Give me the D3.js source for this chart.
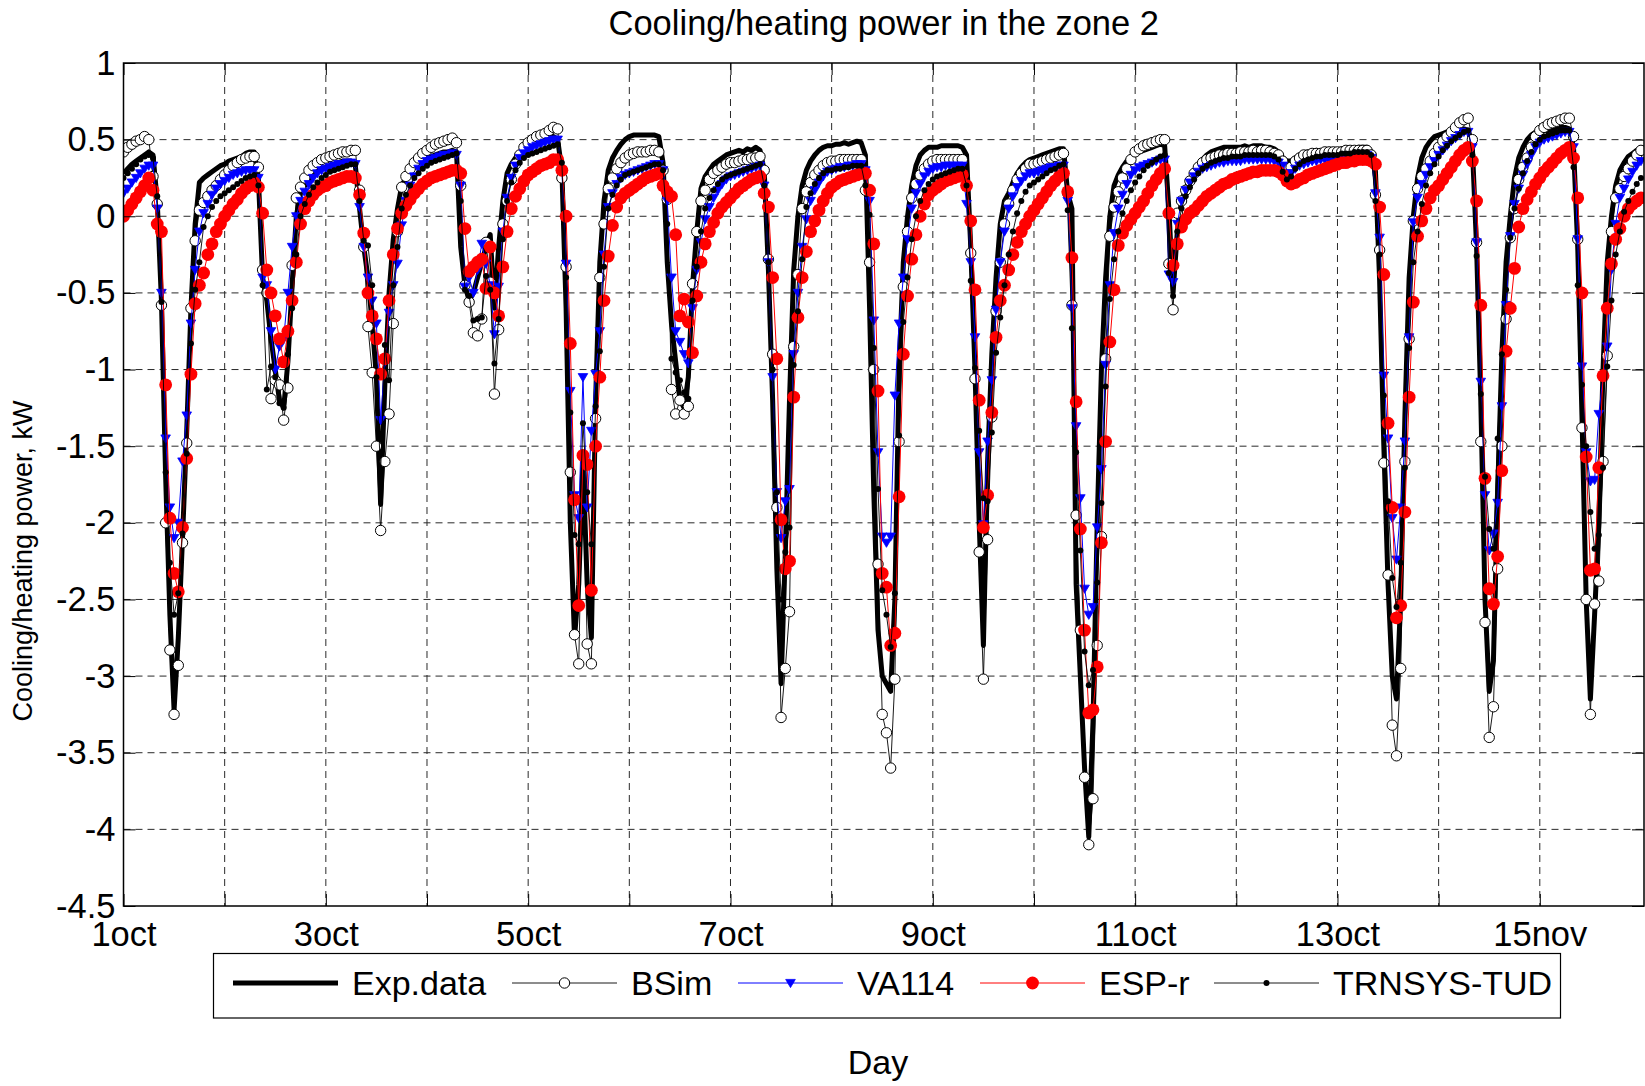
<!DOCTYPE html>
<html>
<head>
<meta charset="utf-8">
<script src="https://cdn.jsdelivr.net/npm/d3@7"></script>
<style>
  body { margin: 0; background: #fff; }
</style>
</head>
<body>
<div id="chart"></div>
<script>
// Hourly values (kW), one block of 24 per day from 1oct 00:00, plus the last hour
const expData = [
  0.28, 0.31, 0.34, 0.36, 0.38, 0.40, 0.42, 0.40,  0.10, -0.55, -1.70, -2.60, -3.22, -2.75, -2.10, -1.40,  -0.60, -0.05, 0.22, 0.25, 0.27, 0.29, 0.31, 0.33,
  0.34, 0.36, 0.37, 0.38, 0.39, 0.41, 0.42, 0.42,  0.25, -0.40, -0.55, -0.80, -1.00, -1.20, -1.25, -0.95,  -0.45, 0.00, 0.15, 0.20, 0.24, 0.27, 0.29, 0.31,
  0.32, 0.33, 0.34, 0.35, 0.36, 0.36, 0.36, 0.33,  0.05, -0.20, -0.40, -0.70, -1.05, -1.88, -1.10, -0.50,  -0.15, 0.05, 0.20, 0.25, 0.29, 0.32, 0.35, 0.37,
  0.38, 0.39, 0.40, 0.41, 0.42, 0.42, 0.43, 0.42,  -0.20, -0.45, -0.55, -0.50, -0.40, -0.30, -0.20, -0.12,  -0.60, -0.20, 0.10, 0.28, 0.34, 0.38, 0.41, 0.43,
  0.45, 0.47, 0.48, 0.50, 0.51, 0.52, 0.52, 0.50,  0.30, -0.60, -2.00, -2.75, -2.40, -1.60, -2.40, -2.75,  -1.20, -0.30, 0.10, 0.30, 0.38, 0.43, 0.47, 0.50,
  0.52, 0.53, 0.53, 0.53, 0.53, 0.53, 0.53, 0.52,  0.35, -0.30, -0.70, -0.95, -1.20, -1.25, -1.05, -0.45,  -0.10, 0.18, 0.26, 0.30, 0.34, 0.36, 0.38, 0.40,
  0.41, 0.42, 0.43, 0.42, 0.44, 0.43, 0.45, 0.43,  0.30, -0.35, -1.20, -2.30, -3.05, -2.20, -1.20, -0.35,  0.00, 0.20, 0.30, 0.36, 0.40, 0.43, 0.45, 0.46,
  0.46, 0.47, 0.47, 0.48, 0.47, 0.48, 0.49, 0.48,  0.40, -0.60, -1.80, -2.70, -3.00, -3.05, -3.10, -2.50,  -1.00, -0.30, 0.00, 0.20, 0.33, 0.40, 0.43, 0.45,
  0.45, 0.45, 0.46, 0.46, 0.46, 0.46, 0.46, 0.45,  0.40, -0.20, -1.00, -2.00, -2.80, -1.60, -0.90, -0.40,  -0.05, 0.10, 0.15, 0.22, 0.28, 0.32, 0.35, 0.37,
  0.38, 0.39, 0.40, 0.41, 0.42, 0.43, 0.44, 0.44,  0.15, 0.05, -2.40, -3.00, -3.60, -4.05, -3.30, -2.00,  -1.00, -0.40, 0.00, 0.20, 0.27, 0.32, 0.36, 0.39,
  0.41, 0.42, 0.43, 0.44, 0.45, 0.46, 0.47, 0.46,  0.05, -0.50, -0.10, 0.10, 0.18, 0.24, 0.29, 0.33,  0.37, 0.40, 0.42, 0.43, 0.44, 0.45, 0.45, 0.45,
  0.45, 0.45, 0.46, 0.45, 0.46, 0.46, 0.46, 0.45,  0.45, 0.44, 0.42, 0.38, 0.36, 0.36, 0.38, 0.40,  0.41, 0.42, 0.42, 0.43, 0.42, 0.43, 0.43, 0.43,
  0.43, 0.44, 0.44, 0.44, 0.44, 0.45, 0.45, 0.45,  0.42, 0.30, -0.42, -1.50, -2.40, -3.00, -3.15, -2.50,  -1.30, -0.40, 0.00, 0.25, 0.38, 0.45, 0.49, 0.52,
  0.53, 0.54, 0.55, 0.55, 0.56, 0.57, 0.57, 0.56,  0.45, -0.20, -1.20, -2.50, -3.10, -2.90, -1.80, -0.90,  -0.30, 0.00, 0.25, 0.38, 0.45, 0.50, 0.53, 0.55,
  0.55, 0.56, 0.56, 0.57, 0.57, 0.58, 0.58, 0.57,  0.45, -0.20, -1.30, -2.50, -3.15, -2.60, -2.00, -1.00,  -0.30, 0.00, 0.20, 0.30, 0.35, 0.39, 0.41, 0.43,
  0.44
];

const bsimData = [
  0.42, 0.45, 0.47, 0.49, 0.50, 0.52, 0.50, 0.26,  0.08, -0.58, -2.00, -2.83, -3.25, -2.93, -2.13, -1.48,  -0.60, -0.16, 0.04, 0.09, 0.13, 0.17, 0.20, 0.24,
  0.27, 0.30, 0.33, 0.35, 0.37, 0.38, 0.39, 0.39,  0.32, -0.35, -0.50, -1.19, -1.07, -1.10, -1.33, -1.12,  -0.32, 0.12, 0.19, 0.25, 0.30, 0.33, 0.35, 0.37,
  0.38, 0.39, 0.40, 0.41, 0.42, 0.42, 0.43, 0.43,  0.17, -0.20, -0.72, -1.02, -1.50, -2.05, -1.60, -1.29,  -0.70, -0.10, 0.19, 0.26, 0.31, 0.35, 0.38, 0.41,
  0.43, 0.45, 0.47, 0.48, 0.49, 0.50, 0.51, 0.48,  0.20, -0.45, -0.56, -0.76, -0.78, -0.67, -0.17, -0.43,  -1.16, -0.74, -0.05, 0.10, 0.24, 0.34, 0.40, 0.45,
  0.48, 0.50, 0.52, 0.53, 0.54, 0.56, 0.58, 0.57,  0.25, -0.33, -1.67, -2.73, -2.92, -1.56, -2.79, -2.92,  -1.32, -0.40, -0.05, 0.18, 0.25, 0.31, 0.35, 0.38,
  0.40, 0.41, 0.42, 0.42, 0.42, 0.43, 0.43, 0.42,  0.30, 0.11, -1.13, -1.29, -1.20, -1.29, -1.24, -0.44,  -0.10, 0.10, 0.17, 0.24, 0.28, 0.30, 0.32, 0.34,
  0.35, 0.35, 0.36, 0.37, 0.37, 0.38, 0.38, 0.39,  0.30, -0.28, -0.90, -1.90, -3.27, -2.95, -2.58, -0.85,  -0.38, 0.05, 0.16, 0.22, 0.27, 0.30, 0.33, 0.35,
  0.36, 0.36, 0.37, 0.37, 0.37, 0.37, 0.37, 0.37,  0.17, -0.30, -1.00, -2.27, -3.25, -3.37, -3.60, -3.02,  -1.47, -0.46, -0.10, 0.12, 0.21, 0.27, 0.31, 0.34,
  0.36, 0.37, 0.37, 0.37, 0.37, 0.37, 0.37, 0.37,  0.20, -0.24, -1.06, -2.19, -3.02, -2.11, -1.31, -0.62,  -0.30, -0.05, 0.08, 0.17, 0.24, 0.28, 0.31, 0.34,
  0.34, 0.35, 0.36, 0.37, 0.38, 0.39, 0.40, 0.41,  0.15, -0.58, -1.95, -2.70, -3.66, -4.10, -3.80, -2.80,  -2.09, -0.93, -0.13, 0.06, 0.16, 0.25, 0.31, 0.37,
  0.42, 0.44, 0.46, 0.47, 0.48, 0.49, 0.50, 0.50,  -0.31, -0.61, 0.02, 0.10, 0.17, 0.23, 0.28, 0.32,  0.35, 0.37, 0.38, 0.39, 0.40, 0.40, 0.41, 0.41,
  0.41, 0.42, 0.42, 0.42, 0.43, 0.42, 0.43, 0.43,  0.42, 0.41, 0.40, 0.36, 0.31, 0.32, 0.36, 0.38,  0.40, 0.40, 0.41, 0.41, 0.41, 0.42, 0.42, 0.42,
  0.42, 0.42, 0.43, 0.43, 0.43, 0.43, 0.43, 0.43,  0.40, 0.14, -0.22, -1.61, -2.34, -3.32, -3.52, -2.95,  -1.60, -0.80, -0.03, 0.18, 0.26, 0.31, 0.36, 0.41,
  0.45, 0.49, 0.52, 0.55, 0.58, 0.61, 0.63, 0.64,  0.50, -0.17, -1.47, -2.65, -3.40, -3.20, -2.30, -1.50,  -0.67, -0.14, 0.05, 0.24, 0.32, 0.38, 0.45, 0.52,
  0.56, 0.58, 0.60, 0.61, 0.62, 0.63, 0.64, 0.64,  0.52, -0.15, -1.38, -2.50, -3.25, -2.53, -2.38, -1.60,  -0.91, -0.10, 0.12, 0.18, 0.26, 0.31, 0.36, 0.40,
  0.43
];

const va114Data = [
  0.15, 0.18, 0.22, 0.25, 0.28, 0.31, 0.33, 0.33,  0.05, -0.50, -1.45, -1.90, -2.10, -2.00, -1.60, -1.30,  -0.70, -0.35, -0.10, 0.02, 0.08, 0.14, 0.18, 0.21,
  0.23, 0.25, 0.27, 0.28, 0.29, 0.30, 0.30, 0.30,  0.25, -0.40, -0.45, -0.75, -1.00, -0.85, -0.80, -0.50,  -0.20, 0.00, 0.10, 0.16, 0.21, 0.25, 0.28, 0.30,
  0.31, 0.32, 0.33, 0.34, 0.34, 0.35, 0.35, 0.34,  0.06, -0.20, -0.40, -0.55, -0.70, -1.33, -0.95, -0.63,  -0.45, -0.31, -0.06, 0.10, 0.20, 0.26, 0.31, 0.34,
  0.36, 0.37, 0.38, 0.39, 0.40, 0.40, 0.41, 0.40,  0.20, -0.46, -0.40, -0.50, -0.35, -0.18, -0.31, -0.45,  -0.77, -0.46, -0.10, 0.12, 0.25, 0.33, 0.38, 0.41,
  0.43, 0.45, 0.46, 0.47, 0.48, 0.49, 0.50, 0.50,  0.30, -0.31, -1.14, -1.82, -1.97, -1.05, -1.90, -1.40,  -1.03, -0.75, -0.25, 0.06, 0.15, 0.21, 0.25, 0.27,
  0.28, 0.29, 0.30, 0.31, 0.32, 0.33, 0.34, 0.34,  0.30, 0.10, -0.40, -0.75, -0.82, -0.90, -0.96, -0.60,  -0.35, -0.17, -0.02, 0.06, 0.12, 0.17, 0.21, 0.24,
  0.26, 0.27, 0.28, 0.29, 0.30, 0.31, 0.32, 0.33,  0.20, -0.30, -1.05, -1.80, -2.10, -1.86, -1.78, -0.90,  -0.50, -0.20, -0.02, 0.10, 0.17, 0.22, 0.26, 0.29,
  0.30, 0.31, 0.32, 0.32, 0.33, 0.33, 0.34, 0.34,  0.30, 0.10, -0.68, -1.54, -2.09, -2.13, -2.09, -1.17,  -0.70, -0.40, -0.15, 0.05, 0.15, 0.21, 0.26, 0.29,
  0.31, 0.32, 0.32, 0.33, 0.33, 0.33, 0.33, 0.33,  0.08, -0.30, -0.79, -1.54, -2.01, -1.47, -1.07, -0.61,  -0.30, -0.10, 0.05, 0.13, 0.19, 0.23, 0.26, 0.28,
  0.28, 0.29, 0.30, 0.31, 0.32, 0.32, 0.33, 0.33,  0.10, -0.60, -1.37, -1.84, -2.43, -2.60, -2.55, -2.03,  -1.65, -0.97, -0.45, -0.11, 0.05, 0.14, 0.21, 0.27,
  0.30, 0.32, 0.33, 0.34, 0.35, 0.36, 0.37, 0.37,  -0.38, -0.43, -0.05, 0.10, 0.17, 0.22, 0.26, 0.29,  0.31, 0.32, 0.33, 0.34, 0.35, 0.35, 0.36, 0.36,
  0.36, 0.36, 0.37, 0.37, 0.37, 0.37, 0.37, 0.37,  0.37, 0.36, 0.35, 0.33, 0.28, 0.28, 0.31, 0.33,  0.34, 0.35, 0.36, 0.36, 0.37, 0.37, 0.37, 0.38,
  0.38, 0.38, 0.39, 0.39, 0.39, 0.40, 0.40, 0.40,  0.38, 0.15, -0.14, -1.04, -1.45, -1.97, -2.24, -1.90,  -1.47, -0.79, -0.04, 0.12, 0.21, 0.27, 0.32, 0.36,
  0.40, 0.43, 0.46, 0.49, 0.51, 0.53, 0.55, 0.55,  0.45, -0.17, -1.08, -1.82, -2.18, -2.07, -1.87, -1.24,  -0.58, -0.13, 0.08, 0.18, 0.27, 0.34, 0.40, 0.45,
  0.48, 0.50, 0.51, 0.52, 0.53, 0.54, 0.55, 0.55,  0.45, -0.15, -0.98, -1.54, -1.73, -1.72, -1.29, -1.05,  -0.85, -0.35, -0.05, 0.12, 0.18, 0.24, 0.29, 0.33,
  0.36
];

const esprData = [
  0.00, 0.04, 0.08, 0.12, 0.16, 0.20, 0.25, 0.17,  -0.05, -0.10, -1.10, -1.97, -2.33, -2.45, -2.03, -1.58,  -1.03, -0.57, -0.45, -0.37, -0.25, -0.18, -0.10, -0.05,
  0.00, 0.04, 0.08, 0.11, 0.15, 0.18, 0.20, 0.22,  0.19, 0.02, -0.35, -0.50, -0.65, -0.80, -0.95, -0.75,  -0.55, -0.30, -0.05, 0.05, 0.10, 0.14, 0.17, 0.19,
  0.20, 0.22, 0.23, 0.24, 0.25, 0.26, 0.26, 0.25,  0.14, -0.11, -0.50, -0.65, -0.80, -1.03, -0.93, -0.55,  -0.25, -0.08, 0.02, 0.07, 0.11, 0.15, 0.18, 0.21,
  0.23, 0.25, 0.26, 0.27, 0.28, 0.29, 0.30, 0.30,  0.28, -0.08, -0.36, -0.33, -0.30, -0.28, -0.47, -0.20,  -0.50, -0.65, -0.33, -0.10, 0.05, 0.13, 0.18, 0.23,
  0.27, 0.29, 0.31, 0.33, 0.34, 0.35, 0.37, 0.37,  0.30, 0.00, -0.83, -1.85, -2.54, -1.56, -1.62, -2.44,  -1.50, -1.05, -0.55, -0.26, -0.06, 0.06, 0.12, 0.15,
  0.17, 0.19, 0.21, 0.23, 0.25, 0.26, 0.27, 0.28,  0.20, 0.16, 0.13, -0.12, -0.65, -0.54, -0.69, -0.89,  -0.52, -0.30, -0.18, -0.10, -0.04, 0.02, 0.06, 0.09,
  0.12, 0.15, 0.18, 0.20, 0.22, 0.24, 0.25, 0.26,  0.15, 0.06, -0.40, -0.93, -1.98, -2.30, -2.25, -1.18,  -0.66, -0.40, -0.23, -0.10, -0.03, 0.04, 0.10, 0.15,
  0.19, 0.21, 0.23, 0.24, 0.25, 0.26, 0.27, 0.28,  0.28, 0.17, -0.18, -1.14, -2.33, -2.42, -2.80, -2.72,  -1.83, -0.90, -0.52, -0.28, -0.12, 0.00, 0.08, 0.14,
  0.17, 0.19, 0.21, 0.23, 0.24, 0.25, 0.26, 0.27,  0.20, -0.03, -0.48, -1.20, -2.03, -1.82, -1.28, -0.79,  -0.55, -0.45, -0.35, -0.25, -0.17, -0.10, -0.05, 0.00,
  0.04, 0.08, 0.12, 0.16, 0.20, 0.23, 0.26, 0.28,  0.16, -0.27, -1.21, -2.04, -2.70, -3.24, -3.22, -2.94,  -2.13, -1.47, -0.82, -0.48, -0.19, -0.11, -0.06, -0.02,
  0.02, 0.06, 0.10, 0.15, 0.20, 0.24, 0.28, 0.31,  0.02, -0.32, -0.18, -0.07, -0.02, 0.02, 0.04, 0.07,  0.10, 0.13, 0.15, 0.17, 0.19, 0.21, 0.22, 0.24,
  0.25, 0.26, 0.27, 0.28, 0.29, 0.29, 0.30, 0.30,  0.30, 0.30, 0.29, 0.27, 0.23, 0.21, 0.22, 0.24,  0.25, 0.27, 0.28, 0.29, 0.30, 0.31, 0.32, 0.33,
  0.34, 0.35, 0.35, 0.36, 0.36, 0.37, 0.37, 0.37,  0.36, 0.34, 0.06, -0.38, -1.35, -1.90, -2.62, -2.54,  -1.93, -1.18, -0.56, -0.13, -0.03, 0.05, 0.12, 0.17,
  0.20, 0.24, 0.28, 0.32, 0.36, 0.40, 0.43, 0.45,  0.36, 0.10, -0.58, -1.71, -2.43, -2.53, -2.22, -1.66,  -0.88, -0.60, -0.34, -0.07, 0.05, 0.11, 0.16, 0.21,
  0.25, 0.29, 0.32, 0.35, 0.38, 0.41, 0.43, 0.45,  0.38, 0.12, -0.50, -1.57, -2.31, -2.30, -1.64, -1.04,  -0.60, -0.31, -0.15, -0.08, 0.00, 0.05, 0.08, 0.10,
  0.12
];

const trnsysData = [
  0.25, 0.28, 0.31, 0.34, 0.37, 0.39, 0.40, 0.38,  0.13, -0.56, -1.67, -2.26, -2.60, -2.46, -2.07, -1.55,  -0.83, -0.48, -0.30, -0.07, 0.00, 0.06, 0.10, 0.13,
  0.15, 0.17, 0.19, 0.21, 0.23, 0.25, 0.26, 0.27,  0.20, -0.45, -1.13, -0.98, -1.05, -1.22, -1.25, -0.90,  -0.60, -0.25, 0.00, 0.08, 0.14, 0.19, 0.22, 0.25,
  0.27, 0.29, 0.30, 0.31, 0.32, 0.33, 0.34, 0.34,  0.10, -0.16, -0.19, -0.45, -1.05, -1.67, -0.84, -1.07,  -0.45, -0.20, 0.05, 0.14, 0.20, 0.25, 0.28, 0.31,
  0.33, 0.35, 0.36, 0.37, 0.38, 0.39, 0.40, 0.41,  0.10, -0.48, -0.52, -0.68, -0.67, -0.66, -0.39, -0.48,  -0.96, -0.67, -0.15, 0.10, 0.22, 0.30, 0.35, 0.38,
  0.40, 0.41, 0.42, 0.43, 0.44, 0.45, 0.46, 0.47,  0.35, -0.40, -1.28, -2.08, -2.14, -1.35, -1.80, -2.14,  -1.24, -0.88, -0.33, 0.05, 0.14, 0.20, 0.24, 0.27,
  0.28, 0.29, 0.30, 0.31, 0.32, 0.33, 0.34, 0.34,  0.30, -0.05, -0.93, -1.02, -1.07, -1.15, -1.19, -0.55,  -0.33, -0.10, 0.05, 0.12, 0.17, 0.21, 0.24, 0.26,
  0.27, 0.28, 0.29, 0.30, 0.31, 0.32, 0.33, 0.34,  0.20, -0.30, -1.00, -1.80, -2.50, -2.19, -2.03, -0.97,  -0.62, -0.28, 0.06, 0.15, 0.21, 0.25, 0.28, 0.30,
  0.30, 0.31, 0.31, 0.32, 0.32, 0.33, 0.33, 0.33,  0.20, 0.01, -0.86, -1.78, -2.44, -2.60, -2.81, -2.46,  -1.43, -0.69, -0.40, -0.15, 0.00, 0.10, 0.17, 0.21,
  0.24, 0.26, 0.27, 0.28, 0.29, 0.30, 0.31, 0.31,  0.20, -0.42, -0.99, -1.40, -1.84, -1.86, -1.41, -0.89,  -0.66, -0.45, -0.25, -0.10, 0.02, 0.10, 0.16, 0.20,
  0.22, 0.24, 0.26, 0.28, 0.30, 0.31, 0.33, 0.34,  0.04, -0.73, -1.54, -2.18, -2.84, -3.06, -2.96, -2.39,  -1.87, -1.11, -0.54, -0.28, -0.10, 0.02, 0.10, 0.17,
  0.22, 0.26, 0.30, 0.33, 0.35, 0.37, 0.39, 0.40,  -0.37, -0.52, -0.10, 0.05, 0.13, 0.19, 0.24, 0.28,  0.31, 0.33, 0.35, 0.36, 0.37, 0.38, 0.38, 0.39,
  0.39, 0.39, 0.40, 0.40, 0.40, 0.40, 0.40, 0.40,  0.40, 0.39, 0.37, 0.29, 0.24, 0.26, 0.31, 0.34,  0.36, 0.37, 0.38, 0.39, 0.39, 0.40, 0.40, 0.40,
  0.40, 0.41, 0.41, 0.41, 0.42, 0.42, 0.42, 0.42,  0.40, 0.10, -0.25, -1.17, -1.86, -2.36, -2.55, -2.26,  -1.64, -0.86, -0.30, -0.10, 0.08, 0.20, 0.28, 0.34,
  0.39, 0.43, 0.46, 0.49, 0.51, 0.53, 0.55, 0.56,  0.40, -0.26, -1.16, -1.70, -2.04, -2.17, -1.45, -0.90,  -0.48, -0.14, 0.05, 0.18, 0.28, 0.36, 0.42, 0.47,
  0.50, 0.52, 0.53, 0.54, 0.55, 0.56, 0.56, 0.56,  0.32, -0.45, -1.10, -1.50, -1.93, -2.17, -2.08, -1.64,  -0.98, -0.55, -0.25, -0.10, 0.03, 0.10, 0.16, 0.21,
  0.25
];

const seriesNames = ['Exp.data', 'BSim', 'VA114', 'ESP-r', 'TRNSYS-TUD'];
const xTickLabels = ['1oct', '', '3oct', '', '5oct', '', '7oct', '', '9oct', '', '11oct', '', '13oct', '', '15nov'];
const yTickValues = [1, 0.5, 0, -0.5, -1, -1.5, -2, -2.5, -3, -3.5, -4, -4.5];

function draw() {
    // Dimension
    const dimensions = {
        width: 1645,
        height: 1086,
        left: 123.5,
        right: 1644,
        top: 63,
        bottom: 906,
    };
    const font = '"Liberation Sans", Arial, Helvetica, sans-serif';

    const svg = d3.select('#chart')
        .append('svg')
        .attr('width', dimensions.width)
        .attr('height', dimensions.height)
        .style('font-family', font);

    // Scales
    const xScale = d3.scaleLinear()
        .domain([0, 15.03])
        .range([dimensions.left, dimensions.right]);
    const yScale = d3.scaleLinear()
        .domain([-4.5, 1])
        .range([dimensions.bottom, dimensions.top]);

    const dayTicks = xTickLabels.map((d, i) => i);

    // Grid
    const grid = svg.append('g')
        .attr('stroke', '#2a2a2a')
        .attr('stroke-width', 1)
        .attr('stroke-dasharray', '7,5');
    grid.selectAll('line.gx')
        .data(dayTicks.slice(1))
        .join('line')
        .classed('gx', true)
        .attr('x1', d => xScale(d)).attr('x2', d => xScale(d))
        .attr('y1', dimensions.top).attr('y2', dimensions.bottom);
    grid.selectAll('line.gy')
        .data(yTickValues.slice(1, -1))
        .join('line')
        .classed('gy', true)
        .attr('x1', dimensions.left).attr('x2', dimensions.right)
        .attr('y1', d => yScale(d)).attr('y2', d => yScale(d));

    // Series
    svg.append('clipPath').attr('id', 'plotClip')
        .append('rect')
        .attr('x', dimensions.left).attr('y', dimensions.top)
        .attr('width', dimensions.right - dimensions.left)
        .attr('height', dimensions.bottom - dimensions.top);

    const plot = svg.append('g').attr('clip-path', 'url(#plotClip)');

    const lineGen = d3.line()
        .x((d, i) => xScale(i / 24))
        .y(d => yScale(d));

    const triangle = 'M-4.8,-3.6L4.8,-3.6L0,4.6Z';

    const series = [
        { name: seriesNames[0], values: expData, color: '#000', width: 5, marker: null },
        { name: seriesNames[1], values: bsimData, color: '#000', width: 0.9, marker: 'open' },
        { name: seriesNames[2], values: va114Data, color: '#0000ff', width: 1, marker: 'tri' },
        { name: seriesNames[3], values: esprData, color: '#ff0000', width: 1, marker: 'big' },
        { name: seriesNames[4], values: trnsysData, color: '#000', width: 0.9, marker: 'dot' },
    ];

    function drawMarkers(g, pts, s) {
        if (s.marker === 'open') {
            g.selectAll('circle').data(pts).join('circle')
                .attr('cx', d => d[0]).attr('cy', d => d[1]).attr('r', 5.2)
                .attr('fill', '#fff').attr('stroke', '#000').attr('stroke-width', 1);
        } else if (s.marker === 'tri') {
            g.selectAll('path').data(pts).join('path')
                .attr('d', triangle)
                .attr('transform', d => `translate(${d[0]},${d[1]})`)
                .attr('fill', s.color).attr('stroke', s.color).attr('stroke-width', 0.8);
        } else if (s.marker === 'big') {
            g.selectAll('circle').data(pts).join('circle')
                .attr('cx', d => d[0]).attr('cy', d => d[1]).attr('r', 6.4)
                .attr('fill', s.color);
        } else if (s.marker === 'dot') {
            g.selectAll('circle').data(pts).join('circle')
                .attr('cx', d => d[0]).attr('cy', d => d[1]).attr('r', 3)
                .attr('fill', '#000');
        }
    }

    series.forEach(s => {
        const g = plot.append('g');
        g.append('path')
            .datum(s.values)
            .attr('fill', 'none')
            .attr('stroke', s.color)
            .attr('stroke-width', s.width)
            .attr('stroke-linejoin', 'round')
            .attr('d', lineGen);
        if (s.marker) {
            const pts = s.values.map((v, i) => [xScale(i / 24), yScale(v)]);
            drawMarkers(g.append('g'), pts, s);
        }
    });

    // Axes (ticks inward, box style)
    const axisStyle = g => {
        g.attr('font-family', font).attr('font-size', 34.5);
        g.select('.domain').remove();
        g.selectAll('.tick line').attr('stroke', '#000').attr('stroke-width', 1);
        g.selectAll('.tick text').attr('fill', '#000');
    };

    const yAxisGroup = svg.append('g')
        .attr('transform', `translate(${dimensions.left},0)`);
    yAxisGroup.call(d3.axisLeft(yScale)
        .tickValues(yTickValues)
        .tickSize(-12)
        .tickPadding(8)
        .tickFormat(d => String(d)))
        .call(axisStyle);

    svg.append('g')
        .attr('transform', `translate(${dimensions.right},0)`)
        .call(d3.axisRight(yScale).tickValues(yTickValues).tickSize(-12).tickFormat(''))
        .call(axisStyle);

    const xAxisGroup = svg.append('g')
        .attr('transform', `translate(0,${dimensions.bottom})`);
    xAxisGroup.call(d3.axisBottom(xScale)
        .tickValues(dayTicks)
        .tickSize(-12)
        .tickPadding(16)
        .tickFormat((d, i) => xTickLabels[i]))
        .call(axisStyle);

    svg.append('g')
        .attr('transform', `translate(0,${dimensions.top})`)
        .call(d3.axisTop(xScale).tickValues(dayTicks).tickSize(-12).tickFormat(''))
        .call(axisStyle);

    svg.append('rect')
        .attr('x', dimensions.left).attr('y', dimensions.top)
        .attr('width', dimensions.right - dimensions.left)
        .attr('height', dimensions.bottom - dimensions.top)
        .attr('fill', 'none')
        .attr('stroke', '#000')
        .attr('stroke-width', 1.5);

    // Titles
    svg.append('text')
        .attr('x', (dimensions.left + dimensions.right) / 2)
        .attr('y', 35)
        .attr('text-anchor', 'middle')
        .attr('font-size', 34.5)
        .text('Cooling/heating power in the zone 2');

    svg.append('text')
        .attr('x', 878)
        .attr('y', 1074)
        .attr('text-anchor', 'middle')
        .attr('font-size', 34)
        .text('Day');

    svg.append('text')
        .attr('transform', 'translate(32,561) rotate(-90)')
        .attr('text-anchor', 'middle')
        .attr('font-size', 27)
        .text('Cooling/heating power, kW');

    // Legend
    const legend = svg.append('g');
    legend.append('rect')
        .attr('x', 213.5).attr('y', 953.5)
        .attr('width', 1347).attr('height', 64.5)
        .attr('fill', '#fff')
        .attr('stroke', '#000')
        .attr('stroke-width', 1.2);

    const legendX = [233, 512, 738, 980, 1214];
    const lineLen = 105;
    const legendY = 983;

    series.forEach((s, i) => {
        const g = legend.append('g');
        const x0 = legendX[i];
        g.append('line')
            .attr('x1', x0).attr('x2', x0 + lineLen)
            .attr('y1', legendY).attr('y2', legendY)
            .attr('stroke', s.color)
            .attr('stroke-width', s.width);
        if (s.marker) {
            drawMarkers(g.append('g'), [[x0 + lineLen / 2, legendY]], s);
        }
        g.append('text')
            .attr('x', x0 + lineLen + 14)
            .attr('y', 995)
            .attr('font-size', 34)
            .text(s.name);
    });
}

draw();
</script>
</body>
</html>
